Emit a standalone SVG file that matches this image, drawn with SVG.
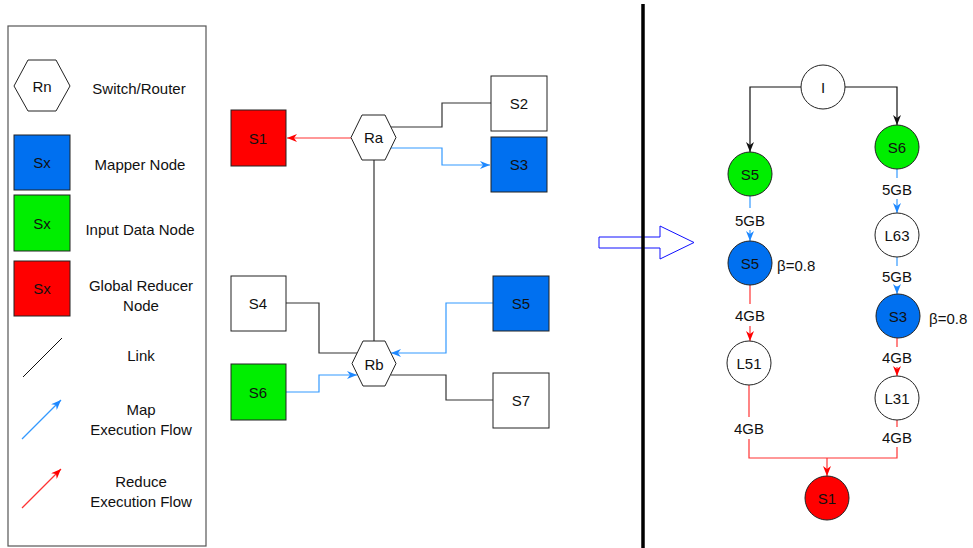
<svg xmlns="http://www.w3.org/2000/svg" width="973" height="548" viewBox="0 0 973 548">
<style>
text{font-family:"Liberation Sans",Arial,sans-serif;font-size:15px;fill:#111;text-anchor:middle;dominant-baseline:central}
.sq{stroke:#222;stroke-width:1}
.w{fill:#fff}.b{fill:#0070F0}.g{fill:#00EE00}.r{fill:#FF0000}
.lk{fill:none;stroke:#333;stroke-width:1.2}
.bl{fill:none;stroke:#3399FF;stroke-width:1.2}
.rd{fill:none;stroke:#FF3333;stroke-width:1.2}
.bk{fill:none;stroke:#111;stroke-width:1.2}
</style>
<defs>
<marker id="ab" markerUnits="userSpaceOnUse" markerWidth="10" markerHeight="8" refX="10" refY="4" orient="auto"><path d="M0,0 L10,4 L0,8 L3,4 Z" fill="#1E88FF"/></marker>
<marker id="ar" markerUnits="userSpaceOnUse" markerWidth="10" markerHeight="8" refX="10" refY="4" orient="auto"><path d="M0,0 L10,4 L0,8 L3,4 Z" fill="#FF0000"/></marker>
<marker id="ak" markerUnits="userSpaceOnUse" markerWidth="10" markerHeight="8" refX="10" refY="4" orient="auto"><path d="M0,0 L10,4 L0,8 L3,4 Z" fill="#111"/></marker>
</defs>
<rect width="973" height="548" fill="#fff"/>

<!-- Legend -->
<g id="legend">
<rect x="8" y="26" width="198" height="520" fill="none" stroke="#555" stroke-width="1.2"/>
<polygon points="14,86 28,60 56,60 70,86 56,111 28,111" class="sq w"/>
<text x="42" y="86">Rn</text>
<text x="139" y="88">Switch/Router</text>
<rect x="14" y="135" width="56" height="55" class="sq b"/>
<text x="42" y="162">Sx</text>
<text x="140" y="164">Mapper Node</text>
<rect x="14" y="195" width="56" height="56" class="sq g"/>
<text x="42" y="223">Sx</text>
<text x="140" y="229">Input Data Node</text>
<rect x="14" y="261" width="56" height="55" class="sq r"/>
<text x="42" y="288">Sx</text>
<text x="141" y="285">Global Reducer</text>
<text x="141" y="305">Node</text>
<line x1="23" y1="377" x2="62" y2="338" stroke="#111" stroke-width="1"/>
<text x="141" y="355">Link</text>
<line x1="22" y1="439" x2="61" y2="400" class="bl" marker-end="url(#ab)"/>
<text x="141" y="409">Map</text>
<text x="141" y="429">Execution Flow</text>
<line x1="22" y1="508" x2="61" y2="469" class="rd" marker-end="url(#ar)"/>
<text x="141" y="481">Reduce</text>
<text x="141" y="501">Execution Flow</text>
</g>

<!-- Network connectors -->
<g id="net-connectors">
<line x1="351" y1="138" x2="287" y2="138" class="rd" marker-end="url(#ar)"/>
<polyline points="390,127 442,127 442,103 491,103" class="lk"/>
<polyline points="391,148 442,148 442,165 490,165" class="bl" marker-end="url(#ab)"/>
<line x1="374" y1="160" x2="374" y2="341" class="lk"/>
<polyline points="286,303 319,303 319,353 358,353" class="lk"/>
<polyline points="493,303 446,303 446,353 391,353" class="bl" marker-end="url(#ab)"/>
<polyline points="286,392 319,392 319,375 357,375" class="bl" marker-end="url(#ab)"/>
<polyline points="391,375 446,375 446,400 493,400" class="lk"/>
</g>

<g id="S1"><rect x="231" y="110" width="55" height="56" class="sq r"/><text x="258" y="138">S1</text></g>
<g id="Ra"><polygon points="351,137.5 362,115 385,115 396,137.5 385,160 362,160" class="sq w"/><text x="373.5" y="137.5">Ra</text></g>
<g id="S2"><rect x="491" y="76" width="56" height="55" class="sq w"/><text x="519" y="103">S2</text></g>
<g id="S3"><rect x="491" y="137" width="56" height="55" class="sq b"/><text x="519" y="164">S3</text></g>
<g id="S4"><rect x="231" y="276" width="55" height="55" class="sq w"/><text x="258" y="303">S4</text></g>
<g id="S6"><rect x="231" y="364" width="55" height="56" class="sq g"/><text x="258" y="392">S6</text></g>
<g id="Rb"><polygon points="352,363.5 363,341 385,341 396,363.5 385,386 363,386" class="sq w"/><text x="374" y="364">Rb</text></g>
<g id="S5"><rect x="493" y="276" width="56" height="55" class="sq b"/><text x="521" y="303">S5</text></g>
<g id="S7"><rect x="493" y="373" width="56" height="55" class="sq w"/><text x="521" y="400">S7</text></g>

<!-- transform arrow and divider -->
<g id="transform-arrow">
<polygon points="599,237 660,237 660,226 694,242.5 660,259 660,248 599,248" fill="none" stroke="#1010FF" stroke-width="1"/>
</g>
<line x1="643" y1="4" x2="643" y2="548" stroke="#000" stroke-width="3.5"/>

<!-- Flow connectors -->
<g id="flow-connectors">
<polyline points="801,87 750,87 750,152" class="bk" marker-end="url(#ak)"/>
<polyline points="845,87 897,87 897,125" class="bk" marker-end="url(#ak)"/>
<line x1="750" y1="196" x2="750" y2="208" class="bl"/>
<line x1="750" y1="230" x2="750" y2="241" class="bl" marker-end="url(#ab)"/>
<line x1="897" y1="169" x2="897" y2="178" class="bl"/>
<line x1="897" y1="199" x2="897" y2="213" class="bl" marker-end="url(#ab)"/>
<line x1="897" y1="257" x2="897" y2="266" class="bl"/>
<line x1="897" y1="286" x2="897" y2="294" class="bl" marker-end="url(#ab)"/>
<line x1="750" y1="285" x2="750" y2="304" class="rd"/>
<line x1="750" y1="326" x2="750" y2="341" class="rd" marker-end="url(#ar)"/>
<line x1="897" y1="338" x2="897" y2="347" class="rd"/>
<line x1="897" y1="367" x2="897" y2="376" class="rd" marker-end="url(#ar)"/>
<line x1="749" y1="385" x2="749" y2="417" class="rd"/>
<line x1="897" y1="420" x2="897" y2="427" class="rd"/>
<polyline points="749,439 749,458 897,458 897,447" class="rd"/>
<line x1="827" y1="458" x2="827" y2="476" class="rd" marker-end="url(#ar)"/>
<text x="750" y="220">5GB</text>
<text x="897" y="189">5GB</text>
<text x="897" y="276">5GB</text>
<text x="750" y="315">4GB</text>
<text x="897" y="357">4GB</text>
<text x="749" y="428">4GB</text>
<text x="897" y="437">4GB</text>
</g>

<g id="I"><circle cx="823" cy="87" r="22" class="sq w"/><text x="823" y="87">I</text></g>
<g id="S5g"><circle cx="750" cy="174" r="22" class="sq g"/><text x="750" y="174">S5</text></g>
<g id="S6g"><circle cx="897" cy="147" r="22" class="sq g"/><text x="897" y="147">S6</text></g>
<g id="S5b"><circle cx="750" cy="263" r="22" class="sq b"/><text x="750" y="263">S5</text><text x="777" y="265" style="text-anchor:start">β=0.8</text></g>
<g id="L63"><circle cx="897" cy="235" r="22" class="sq w"/><text x="897" y="235">L63</text></g>
<g id="S3b"><circle cx="898" cy="316" r="22" class="sq b"/><text x="898" y="316">S3</text><text x="929" y="318" style="text-anchor:start">β=0.8</text></g>
<g id="L51"><circle cx="749" cy="363" r="22" class="sq w"/><text x="749" y="363">L51</text></g>
<g id="L31"><circle cx="897" cy="398" r="22" class="sq w"/><text x="897" y="398">L31</text></g>
<g id="S1r"><circle cx="827" cy="498" r="22" class="sq r"/><text x="827" y="498">S1</text></g>
</svg>
